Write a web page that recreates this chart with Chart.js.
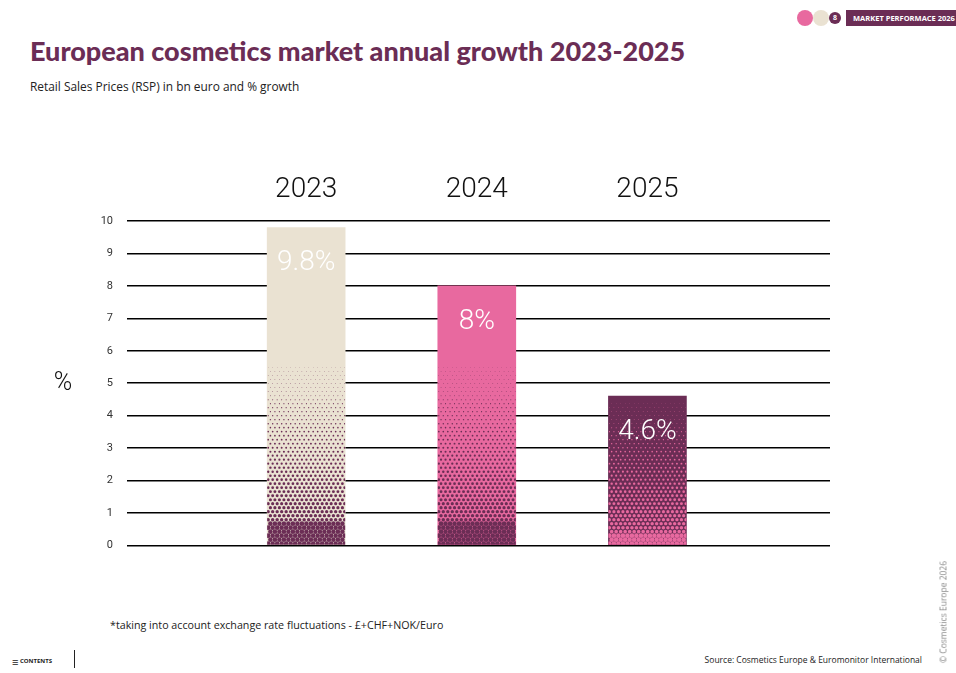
<!DOCTYPE html>
<html>
<head>
<meta charset="utf-8">
<script src="https://cdn.jsdelivr.net/npm/chart.js@4.4.1/dist/chart.umd.min.js"></script>
<style>
  body { margin: 0; width: 956px; height: 673px; background: #fff; position: relative; overflow: hidden; font-family: "Open Sans", sans-serif; }
  .abs { position: absolute; white-space: nowrap; }
  #title { left: 30px; top: 34px; font-family: Lato, sans-serif; font-size: 27px; font-weight: 900; color: #6b2d55; }
  #subtitle { left: 30px; top: 78px; font-size: 11.9px; color: #222; }
  .dot { position: absolute; border-radius: 50%; }
  #tag { left: 846px; top: 10px; width: 110px; height: 16px; background: #6b2d55; color: #fff; font-size: 7.5px; font-weight: 700; line-height: 16px; padding-left: 7px; box-sizing: border-box; }
  #note { left: 110px; top: 618px; font-size: 10.7px; color: #222; }
  #contents { left: 12px; top: 654px; font-size: 6px; font-weight: 700; color: #222; }
  #vline { left: 74px; top: 650px; width: 1px; height: 18px; background: #222; }
  #source { right: 34px; top: 654px; font-size: 8.5px; color: #222; }
  #copy { left: 943px; top: 612px; font-size: 8.5px; color: #888; transform: translate(-50%, -50%) rotate(-90deg); }
  #wrap { position: absolute; left: 0; top: 140px; width: 956px; height: 426px; }
</style>
</head>
<body>
<div class="abs" id="title">European cosmetics market annual growth 2023-2025</div>
<div class="abs" id="subtitle">Retail Sales Prices (RSP) in bn euro and % growth</div>

<div class="dot" style="left:797px;top:10px;width:16px;height:16px;background:#e8699f"></div>
<div class="dot" style="left:813px;top:10px;width:16px;height:16px;background:#eae2d2"></div>
<div class="dot" style="left:829px;top:12px;width:12px;height:12px;background:#6b2d55;color:#fff;font-size:7px;font-weight:700;text-align:center;line-height:12px">8</div>
<div class="abs" id="tag">MARKET PERFORMACE 2026</div>

<div id="wrap"><canvas id="chart"></canvas></div>

<div class="abs" id="note">*taking into account exchange rate fluctuations - £+CHF+NOK/Euro</div>
<div class="abs" id="contents"><span style="font-size:11px;font-weight:400;vertical-align:middle">&#8801;</span> CONTENTS</div>
<div class="abs" id="vline"></div>
<div class="abs" id="source">Source: Cosmetics Europe &amp; Euromonitor International</div>
<div class="abs" id="copy">© Cosmetics Europe 2026</div>

<script>
// data
const years = ["2023", "2024", "2025"];
const growth = [9.8, 8.0, 4.6];
const growthLabels = ["9.8%", "8%", "4.6%"];
const yTicks = [0, 1, 2, 3, 4, 5, 6, 7, 8, 9, 10];

// bar colours: solid top colour, halftone dot colour
const topColors = ["#eae2d2", "#e8699f", "#6b2d55"];
const dotColors = ["#6b2d55", "#6b2d55", "#e8699f"];

// halftone dots drawn over each bar, growing toward the base
const halftone = {
  id: "halftone",
  afterDatasetDraw(chart, args) {
    const ctx = chart.ctx;
    const yScale = chart.scales.y;
    args.meta.data.forEach((bar, i) => {
      const p = bar.getProps(["x", "y", "base", "width"], true);
      const left = p.x - p.width / 2, right = p.x + p.width / 2;
      const start = Math.max(p.y + 6, yScale.getPixelForValue(5.5));
      const span = p.base - start;
      ctx.save();
      ctx.beginPath();
      ctx.rect(left, p.y, p.width, p.base - p.y);
      ctx.clip();
      ctx.fillStyle = dotColors[i];
      let row = 0;
      for (let yy = p.base - 1; yy > start; yy -= 4, row++) {
        const t = (yy - start) / span;
        let r = 0.25 + 1.75 * Math.pow(t, 1.1);
        if (p.base - yy < (i === 2 ? 10 : 22)) r = 2.3;
        const off = row % 2 ? 2.25 : 0;
        for (let xx = left + 1 + off; xx < right; xx += 4.5) {
          ctx.beginPath();
          ctx.arc(xx, yy, r, 0, Math.PI * 2);
          ctx.fill();
        }
      }
      ctx.restore();
    });
  },
  afterDatasetsDraw(chart) {
    const ctx = chart.ctx;
    const meta = chart.getDatasetMeta(0);
    ctx.save();
    ctx.fillStyle = "#fff";
    ctx.font = "300 28px Roboto";
    ctx.textAlign = "center";
    ctx.textBaseline = "middle";
    meta.data.forEach((bar, i) => {
      ctx.fillText(growthLabels[i], bar.x, bar.y + 36);
    });
    // unrotated axis title
    ctx.fillStyle = "#111";
    ctx.font = "300 25px Roboto";
    ctx.fillText("%", 63, chart.scales.y.getPixelForValue(5) + 1);
    ctx.restore();
  }
};

new Chart(document.getElementById("chart"), {
  type: "bar",
  data: {
    datasets: [{
      data: growth.map((v, i) => ({ x: i, y: v })),
      backgroundColor: topColors,
      barThickness: 78,
      borderWidth: 0
    }]
  },
  options: {
    responsive: true,
    maintainAspectRatio: false,
    animation: false,
    layout: { padding: { left: 0, right: 126, top: 0, bottom: 8 } },
    plugins: { legend: { display: false }, tooltip: { enabled: false } },
    scales: {
      x: {
        type: "linear",
        position: "top",
        offset: false,
        min: -1.05,
        max: 3.07,
        grid: { display: false },
        border: { display: false },
        afterBuildTicks: (s) => { s.ticks = years.map((_, i) => ({ value: i })); },
        afterFit: (s) => { s.height = 81; },
        ticks: {
          color: "#111",
          font: { family: "Roboto", size: 28, weight: 300 },
          padding: 6,
          maxRotation: 0,
          callback: (v) => years[v]
        }
      },
      y: {
        min: 0,
        max: 10,
        afterBuildTicks: (s) => { s.ticks = yTicks.map((v) => ({ value: v })); },
        afterFit: (s) => { s.width = 127; },
        grid: { color: "#000", lineWidth: 1.5, drawTicks: false },
        border: { display: false },
        ticks: {
          color: "#333",
          font: { family: "Roboto", size: 11 },
          padding: 14
        }
      }
    }
  },
  plugins: [halftone]
});
</script>
</body>
</html>
